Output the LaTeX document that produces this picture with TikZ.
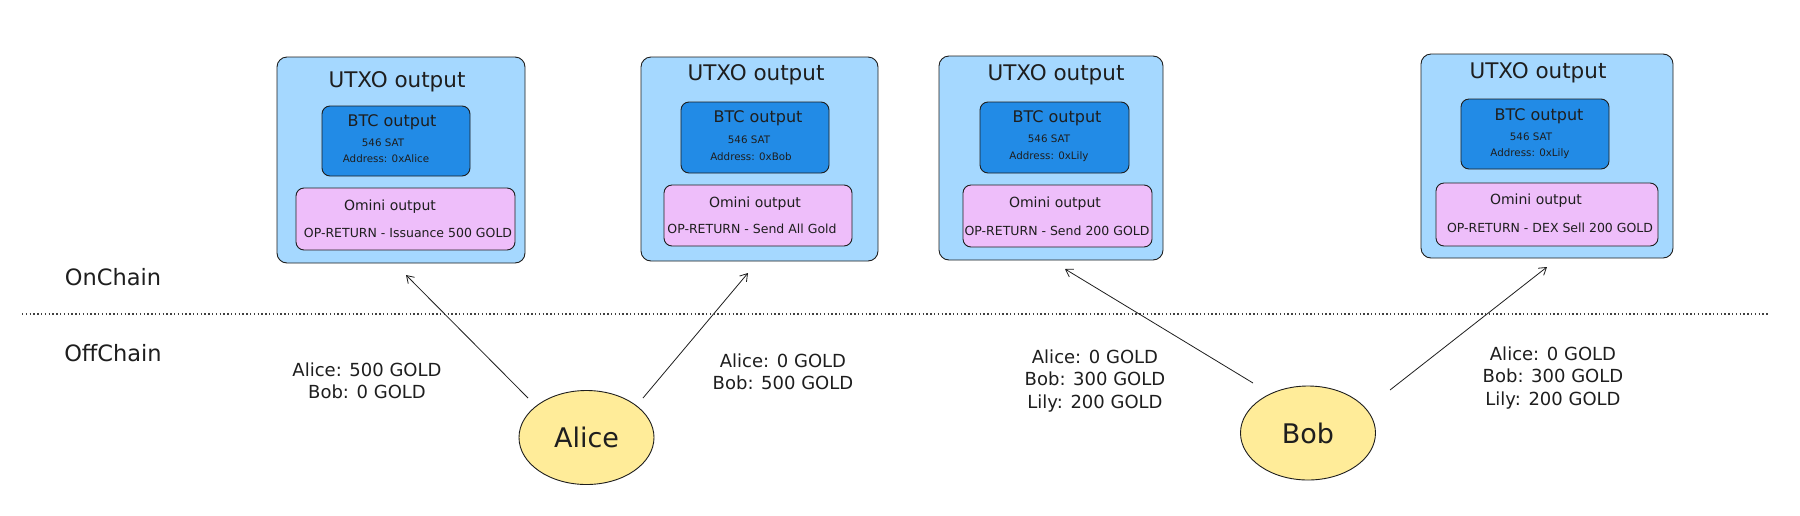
\documentclass[tikz,border=0pt]{standalone}
\usepackage{fontspec}
\setmainfont{DejaVu Sans}
\usetikzlibrary{arrows.meta,shapes.geometric}
\definecolor{strokec}{HTML}{1E1E1E}
\definecolor{utxofill}{HTML}{A5D8FF}
\definecolor{btcfill}{HTML}{228BE6}
\definecolor{ominifill}{HTML}{EEBEFA}
\definecolor{personfill}{HTML}{FFEC99}
\tikzset{
  utxobox/.style={draw=strokec, fill=utxofill, rounded corners=10pt, line width=0.9pt, inner sep=0pt},
  btcbox/.style={draw=strokec, fill=btcfill, rounded corners=8pt, line width=0.9pt, inner sep=0pt},
  ominibox/.style={draw=strokec, fill=ominifill, rounded corners=8pt, line width=0.9pt, inner sep=0pt},
  person/.style={ellipse, draw=strokec, fill=personfill, line width=0.9pt, inner sep=0pt, minimum width=135pt, minimum height=94pt, font=\fontsize{27}{30}\selectfont, text=strokec},
  ttitle/.style={font=\fontsize{21.5}{24}\selectfont, text=strokec, inner sep=0pt},
  tsub/.style={font=\fontsize{16}{19}\selectfont, text=strokec, inner sep=0pt},
  tomini/.style={font=\fontsize{14}{17}\selectfont, text=strokec, inner sep=0pt},
  tsmall/.style={font=\fontsize{10.3}{12}\selectfont, text=strokec, inner sep=0pt},
  top/.style={font=\fontsize{12.5}{15}\selectfont, text=strokec, inner sep=0pt},
  tlabel/.style={font=\fontsize{18}{22.5}\selectfont, text=strokec, align=center, inner sep=0pt},
  tzone/.style={font=\fontsize{22.5}{26}\selectfont, text=strokec, inner sep=0pt},
  arr/.style={draw=strokec, line width=0.8pt, -{Straight Barb[length=7pt,width=9pt]}},
}
\begin{document}
\begin{tikzpicture}[x=1pt,y=-1pt]
\useasboundingbox (0,0) rectangle (1800,515);
\fill[white] (0,0) rectangle (1800,515);

% divider
\coordinate (dl) at (22,314);
\coordinate (dr) at (1768,314);
\draw[strokec!85, line width=1.1pt, dash pattern=on 1.4pt off 2.4pt] (dl) -- (dr);
\node[tzone] (onchain) at (113,277) {OnChain};
\node[tzone] (offchain) at (113,353) {OffChain};

% box 1
\node[utxobox, minimum width=248pt, minimum height=206pt] (u1) at (401,160) {};
\node[btcbox, minimum width=148pt, minimum height=70pt] (b1) at (396,141) {};
\node[ominibox, minimum width=219pt, minimum height=62pt] (o1) at (405.5,219) {};
\node[ttitle] (u1t) at (397,82) {UTXO output};
\node[tsub] (b1t) at (392,122) {BTC output};
\node[tsmall] (b1s) at (383,143) {546 SAT};
\node[tsmall] (b1a) at (386,159) {Address: 0xAlice};
\node[tomini] (o1t) at (390,207) {Omini output};
\node[top] (o1o) at (408,233) {OP-RETURN - Issuance 500 GOLD};

% box 2
\node[utxobox, minimum width=237pt, minimum height=204pt] (u2) at (759.5,159) {};
\node[btcbox, minimum width=148pt, minimum height=71pt] (b2) at (755,137.5) {};
\node[ominibox, minimum width=188pt, minimum height=61pt] (o2) at (758,215.5) {};
\node[ttitle] (u2t) at (756,75) {UTXO output};
\node[tsub] (b2t) at (758,118) {BTC output};
\node[tsmall] (b2s) at (749,140) {546 SAT};
\node[tsmall] (b2a) at (751,157) {Address: 0xBob};
\node[tomini] (o2t) at (755,204) {Omini output};
\node[top] (o2o) at (752,229) {OP-RETURN - Send All Gold};

% box 3
\node[utxobox, minimum width=224pt, minimum height=204pt] (u3) at (1051,158) {};
\node[btcbox, minimum width=149pt, minimum height=71pt] (b3) at (1054.5,137.5) {};
\node[ominibox, minimum width=189pt, minimum height=62pt] (o3) at (1057.5,216) {};
\node[ttitle] (u3t) at (1056,75) {UTXO output};
\node[tsub] (b3t) at (1057,118) {BTC output};
\node[tsmall] (b3s) at (1049,139) {546 SAT};
\node[tsmall] (b3a) at (1049,157) {Address: 0xLily};
\node[tomini] (o3t) at (1055,204) {Omini output};
\node[top] (o3o) at (1057,231) {OP-RETURN - Send 200 GOLD};

% box 4
\node[utxobox, minimum width=252pt, minimum height=204pt] (u4) at (1547,156) {};
\node[btcbox, minimum width=148pt, minimum height=70pt] (b4) at (1535,134) {};
\node[ominibox, minimum width=222pt, minimum height=63pt] (o4) at (1547,214.5) {};
\node[ttitle] (u4t) at (1538,73) {UTXO output};
\node[tsub] (b4t) at (1539,116) {BTC output};
\node[tsmall] (b4s) at (1531,137) {546 SAT};
\node[tsmall] (b4a) at (1530,154) {Address: 0xLily};
\node[tomini] (o4t) at (1536,201) {Omini output};
\node[top] (o4o) at (1550,228) {OP-RETURN - DEX Sell 200 GOLD};

% people
\node[person] (alice) at (586.5,437.5) {Alice};
\node[person] (bob) at (1308,433) {Bob};

% balance labels
\node[tlabel] (l1) at (367,381) {Alice: 500 GOLD\\Bob: 0 GOLD};
\node[tlabel] (l2) at (783,372) {Alice: 0 GOLD\\Bob: 500 GOLD};
\node[tlabel] (l3) at (1095,381) {Alice: 0 GOLD\\Bob: 300 GOLD\\Lily: 200 GOLD};
\node[tlabel] (l4) at (1553,378) {Alice: 0 GOLD\\Bob: 300 GOLD\\Lily: 200 GOLD};

% arrows
\coordinate (a1s) at (528,398);
\coordinate (a1e) at (406,275);
\coordinate (a2s) at (643,398);
\coordinate (a2e) at (748,273);
\coordinate (a3s) at (1253,383);
\coordinate (a3e) at (1065,269);
\coordinate (a4s) at (1390,390);
\coordinate (a4e) at (1547,267);
\draw[arr] (a1s) -- (a1e);
\draw[arr] (a2s) -- (a2e);
\draw[arr] (a3s) -- (a3e);
\draw[arr] (a4s) -- (a4e);
\end{tikzpicture}
\end{document}
